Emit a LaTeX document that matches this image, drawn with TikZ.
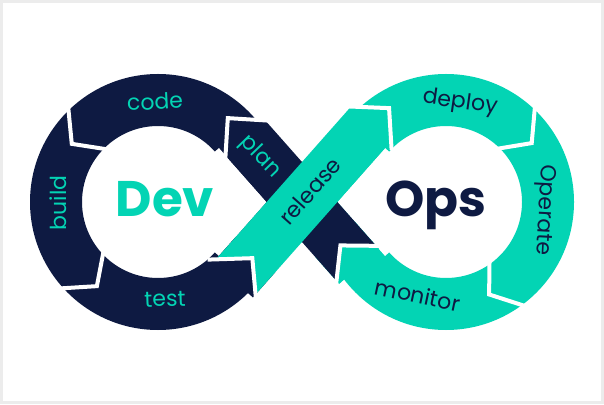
\documentclass[tikz,border=0pt]{standalone}
\usepackage{fontspec}
\setmainfont{Poppins}
\usepackage{tikz}
\usetikzlibrary{
  calc
}
\usepackage{xcolor}
\definecolor{devnavy}  {RGB}{14,  26,  66}
\definecolor{opsteal}  {RGB}{3,  212, 180}
\definecolor{framegray}{RGB}{236, 236, 236}
\tikzset{
  ringlbl/.style={
    text=#1, inner sep=0pt,
    font=\fontsize{22}{26}\selectfont
  },
  biglbl/.style={
    text=#1, inner sep=0pt, anchor=base,
    font=\fontsize{50}{60}\selectfont\bfseries
  },
  gapline/.style={
    draw=white, line width=4pt, line join=miter
  },
}

\begin{document}
\begin{tikzpicture}[x=1pt, y=1pt]

% ── Frame ─────────────────────────────────────────────────────────────────────
\fill[white] (0,0) rectangle (604,404);
\draw[framegray, line width=2.5pt] (1.5,1.5) rectangle (602.5,402.5);
\useasboundingbox (0,0) rectangle (604,404);

\coordinate (L) at (158,202);
\coordinate (R) at (446,202);
\coordinate (O) at (302,202);

% ── Rings ─────────────────────────────────────────────────────────────────────
\fill[devnavy, even odd rule] (L) circle[radius=128] (L) circle[radius=76];
\fill[opsteal, even odd rule] (R) circle[radius=128] (R) circle[radius=76];

% ── Inner wedges towards the crossing ─────────────────────────────────────────
\begin{scope}[shift={(L)}]
  \fill[white] (0,0) -- (41.5:81.4) -- (108.6,0) -- (-41.5:81.4) -- cycle;
\end{scope}
\begin{scope}[shift={(R)}]
  \fill[white] (0,0) -- (138.5:81.4) -- (-108.6,0) -- (221.5:81.4) -- cycle;
\end{scope}

% ── Dark band: monitor -> plan ────────────────────────────────────────────────
\begin{scope}[shift={(O)}, rotate=-48.5]
  \fill[opsteal] (50,-26.5) -- (86,-26.5) -- (86,26.5) -- (50,26.5) -- cycle;
  \fill[devnavy] (-112,0) -- (-85.5,26.5) -- (82,26.5) -- (58,0)
    -- (82,-26.5) -- (-85.5,-26.5) -- cycle;
  \draw[gapline] (-79.5,32.5) -- (-112,0) -- (-79.5,-32.5);
  \draw[gapline] (87.4,32.5) -- (58,0) -- (87.4,-32.5);
\end{scope}

% ── Teal band: test -> release -> deploy ──────────────────────────────────────
\begin{scope}[shift={(O)}, rotate=48.5]
  \fill[devnavy] (-104,-26.5) -- (-70,-26.5) -- (-70,26.5) -- (-104,26.5) -- cycle;
  \fill[opsteal] (-75,0) -- (-100,26.5) -- (104,26.5) -- (128,-3)
    -- (104.5,-26.5) -- (-100,-26.5) -- cycle;
  \draw[gapline] (-105.7,32.5) -- (-75,0) -- (-105.7,-32.5);
  \draw[gapline] (99.1,32.5) -- (128,-3) -- (98.5,-32.5);
\end{scope}

% ── Gaps between ring segments ────────────────────────────────────────────────
\draw[gapline] ($(L)+(132:135)$) -- ($(L)+(146:104)$) -- ($(L)+(132:70)$);
\draw[gapline] ($(L)+(220:135)$) -- ($(L)+(234:104)$) -- ($(L)+(220:70)$);
\draw[gapline] ($(R)+(48.5:135)$) -- ($(R)+(34.5:104)$) -- ($(R)+(48.5:70)$);
\draw[gapline] ($(R)+(-51.5:135)$) -- ($(R)+(-65:102)$) -- ($(R)+(-51.5:70)$);

% ── Labels ────────────────────────────────────────────────────────────────────
\node[ringlbl=opsteal, rotate=3]     (codelbl)  at (155,302.5) {code};
\node[ringlbl=opsteal, rotate=90]    (buildlbl) at (58,201)    {build};
\node[ringlbl=opsteal, rotate=2]     (testlbl)  at (165,105)   {test};
\node[ringlbl=opsteal, rotate=-46]   (planlbl)  at (260,247)   {plan};
\node[ringlbl=devnavy, rotate=48.5]  (rellbl)   at (310,213)   {release};
\node[ringlbl=devnavy, rotate=-8]    (deplbl)   at (460,301)   {deploy};
\node[ringlbl=devnavy, rotate=-93]   (oplbl)    at (544,194)   {Operate};
\node[ringlbl=devnavy, rotate=-12]   (monlbl)   at (418,109)   {monitor};

\node[biglbl=opsteal] (devlbl) at (165,187) {Dev};
\node[biglbl=devnavy] (opslbl) at (436,187) {Ops};

\end{tikzpicture}
\end{document}
